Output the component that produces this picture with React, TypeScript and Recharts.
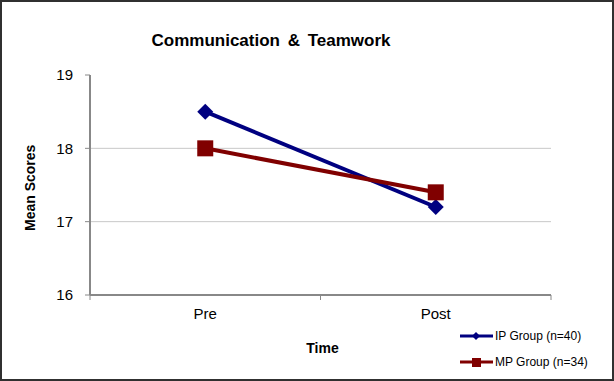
import React from 'react';
import { LineChart, Line, XAxis, YAxis, ReferenceLine } from 'recharts';

const times = ['Pre', 'Post'];
const ipScores = [18.5, 17.2];
const mpScores = [18.0, 17.4];
const yTicks = [16, 17, 18, 19];
const gridValues = [17, 18];

const IP_COLOR = '#000080';
const MP_COLOR = '#800000';
const FONT = '"Liberation Sans", Arial, sans-serif';

const data = times.map((t, i) => ({ time: t, ip: ipScores[i], mp: mpScores[i] }));

const Diamond = (props: any) => {
  const { cx, cy, index } = props;
  if (cx == null || cy == null) return null;
  const r = 8;
  return (
    <path
      key={`d-${index}`}
      d={`M${cx},${cy - r} L${cx + r},${cy} L${cx},${cy + r} L${cx - r},${cy} Z`}
      fill={IP_COLOR}
    />
  );
};

const Square = (props: any) => {
  const { cx, cy, index } = props;
  if (cx == null || cy == null) return null;
  const s = 16;
  return <rect key={`s-${index}`} x={cx - s / 2} y={cy - s / 2} width={s} height={s} fill={MP_COLOR} />;
};

// tick label au centre, petits traits aux limites des catégories
const TimeTick = (props: any) => {
  const { x, y, payload, index, visibleTicksCount } = props;
  const half = payload.offset || 0;
  const last = index === visibleTicksCount - 1;
  return (
    <g>
      <line x1={x - half} x2={x - half} y1={y - 8} y2={y - 3} stroke="#888" />
      {last && <line x1={x + half} x2={x + half} y1={y - 8} y2={y - 3} stroke="#888" />}
      <text x={x} y={y + 16} textAnchor="middle" fontSize={15} fill="#000" fontFamily={FONT}>
        {payload.value}
      </text>
    </g>
  );
};

const legendItems = [
  { name: 'IP Group (n=40)', color: IP_COLOR, marker: 'diamond' },
  { name: 'MP Group (n=34)', color: MP_COLOR, marker: 'square' },
];

export default function App() {
  return (
    <div style={{ position: 'fixed', left: 0, top: 0, width: 614, height: 381, background: '#fff', fontFamily: FONT }}>
      <LineChart width={614} height={381} data={data} margin={{ top: 75, right: 63, left: 0, bottom: 56 }}>
        {gridValues.map((v) => (
          <ReferenceLine key={v} y={v} stroke="#c8c8c8" strokeWidth={1} />
        ))}
        <XAxis
          dataKey="time"
          scale="band"
          height={30}
          axisLine={{ stroke: '#888', strokeWidth: 2 }}
          tickLine={false}
          tick={<TimeTick />}
          interval={0}
          label={{ value: 'Time', position: 'insideBottom', offset: -28, fontSize: 14, fontWeight: 'bold', fill: '#000', dx: 2 }}
        />
        <YAxis
          width={90}
          domain={[16, 19]}
          ticks={yTicks}
          interval={0}
          axisLine={{ stroke: '#888', strokeWidth: 2 }}
          tickLine={{ stroke: '#888' }}
          tickSize={5}
          tickMargin={12}
          tick={{ fontSize: 15, fill: '#000', fontFamily: FONT }}
          label={{ value: 'Mean Scores', angle: -90, position: 'insideLeft', offset: 30, fontSize: 14, fontWeight: 'bold', fill: '#000', dy: 46 }}
        />
        <Line dataKey="ip" stroke={IP_COLOR} strokeWidth={4} dot={<Diamond />} activeDot={false} isAnimationActive={false} />
        <Line dataKey="mp" stroke={MP_COLOR} strokeWidth={4} dot={<Square />} activeDot={false} isAnimationActive={false} />
      </LineChart>

      <div style={{ position: 'absolute', left: 0, top: 31, width: 542, textAlign: 'center', fontSize: 17, fontWeight: 'bold', color: '#000', wordSpacing: 3 }}>
        Communication &amp; Teamwork
      </div>

      <div style={{ position: 'absolute', left: 458, top: 323 }}>
        {legendItems.map((it) => (
          <div key={it.name} style={{ display: 'flex', alignItems: 'center', height: 26, fontSize: 12, color: '#000' }}>
            <svg width={36} height={14} style={{ marginRight: 1 }}>
              <line x1={2} x2={35} y1={7} y2={7} stroke={it.color} strokeWidth={3} />
              {it.marker === 'diamond' ? (
                <path d="M18,3 L22,7 L18,11 L14,7 Z" fill={it.color} />
              ) : (
                <rect x={14} y={3} width={9} height={9} fill={it.color} />
              )}
            </svg>
            {it.name}
          </div>
        ))}
      </div>

      <div style={{ position: 'absolute', left: 0, top: 0, width: 614, height: 381, boxSizing: 'border-box', border: '2px solid #303030', pointerEvents: 'none' }} />
    </div>
  );
}
